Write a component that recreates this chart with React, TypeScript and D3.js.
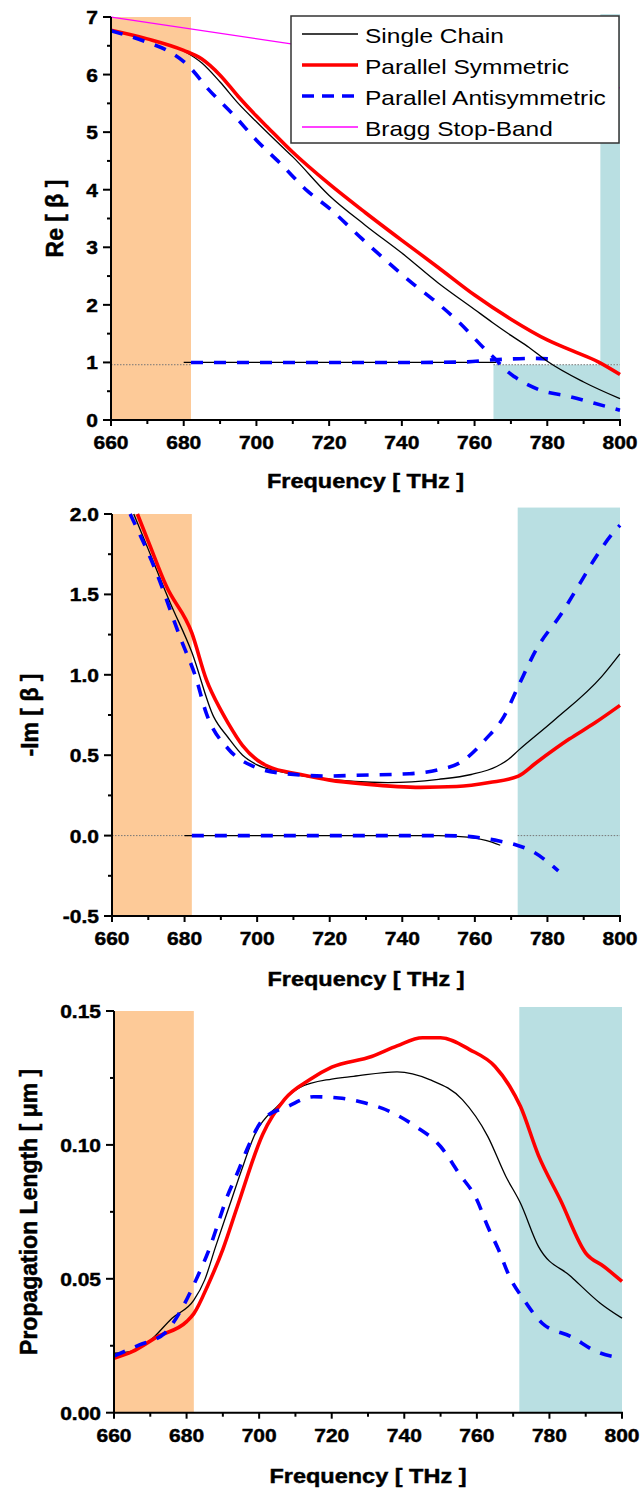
import React from "react";
import * as d3 from "d3";

const FONT = "'Liberation Sans', Arial, Helvetica, sans-serif";

// frequency axis (THz)
const freqTicks = [660, 680, 700, 720, 740, 760, 780, 800];
const freqMinor = [670, 690, 710, 730, 750, 770, 790];

// Re[β] panel
const reTicks = [0, 1, 2, 3, 4, 5, 6, 7];
const reSingle = [[660, 6.77], [670, 6.62], [680, 6.41], [685, 6.2], [690, 5.87], [695, 5.5], [700, 5.18], [707, 4.75], [710, 4.57], [720, 3.9], [730, 3.38], [740, 2.9], [750, 2.38], [760, 1.92], [765, 1.69], [770, 1.47], [775, 1.26], [780, 1.02], [790, 0.66], [800, 0.37]];
const reSym = [[660, 6.77], [670, 6.62], [680, 6.42], [685, 6.27], [690, 5.99], [695, 5.62], [700, 5.28], [703, 5.09], [710, 4.65], [720, 4.1], [730, 3.6], [740, 3.12], [750, 2.65], [760, 2.17], [770, 1.75], [780, 1.39], [787, 1.2], [794, 1.01], [800, 0.79]];
const reAnti = [[660, 6.76], [670, 6.56], [676, 6.4], [681, 6.17], [687, 5.73], [694, 5.28], [700, 4.86], [707, 4.43], [714, 3.98], [720, 3.68], [729, 3.15], [743, 2.37], [750, 2.02], [756, 1.68], [763, 1.22], [766, 1.04], [768, 0.9], [771, 0.75], [778, 0.52], [786, 0.41], [793, 0.29], [800, 0.17]];
const reSingleLow = [[680, 1.0], [720, 1.0], [766, 1.0]];
const reAntiLow = [[682, 1.0], [720, 1.0], [745, 1.0], [758, 1.01], [764, 1.04], [770, 1.06], [776, 1.07], [783, 1.05]];
const bragg = [[660, 7.0], [710, 6.53], [800, 5.77]];

// -Im[β] panel
const imTicks = [-0.5, 0, 0.5, 1, 1.5, 2];
const imSingle = [[666, 2.0], [670, 1.78], [676, 1.45], [682, 1.14], [688, 0.74], [692, 0.61], [696, 0.5], [700, 0.44], [706, 0.4], [718, 0.355], [736, 0.33], [750, 0.35], [759, 0.38], [766, 0.43], [769, 0.47], [772, 0.53], [782, 0.72], [795, 0.99], [800, 1.13]];
const imSym = [[667, 2.0], [670, 1.83], [675, 1.55], [682, 1.26], [686, 0.97], [690, 0.78], [692, 0.7], [696, 0.56], [700, 0.47], [703, 0.43], [712, 0.38], [720, 0.345], [730, 0.32], [745, 0.3], [755, 0.305], [764, 0.33], [772, 0.37], [777, 0.455], [786, 0.6], [793, 0.7], [800, 0.81]];
const imAnti = [[665, 2.0], [672, 1.65], [679, 1.22], [683, 0.99], [686, 0.76], [692, 0.54], [699, 0.43], [706, 0.39], [720, 0.37], [727, 0.375], [742, 0.385], [750, 0.41], [756, 0.455], [763, 0.6], [768, 0.74], [772, 0.93], [777, 1.16], [784, 1.385], [789, 1.57], [793, 1.72], [798, 1.88], [800, 1.93]];
const imSingleLow = [[680, 0.0], [720, 0.0], [750, 0.0], [758, -0.01], [763, -0.03], [767, -0.06]];
const imAntiLow = [[682, 0.0], [720, 0.0], [750, 0.0], [758, -0.005], [762, -0.015], [767, -0.035], [771, -0.055], [776, -0.1], [783, -0.22]];

// propagation length panel
const lenTicks = [0, 0.05, 0.1, 0.15];
const lenSingle = [[660, 0.0222], [665, 0.023], [670, 0.027], [676, 0.0353], [682, 0.042], [685, 0.0496], [688, 0.062], [692, 0.078], [695, 0.09], [699, 0.1044], [705, 0.1144], [711, 0.1213], [720, 0.1246], [726, 0.1256], [738, 0.1273], [747, 0.1244], [756, 0.1169], [763, 0.1032], [768, 0.0882], [772, 0.0783], [777, 0.062], [786, 0.0508], [794, 0.0409], [800, 0.0353]];
const lenSym = [[660, 0.0203], [665, 0.0228], [672, 0.0284], [680, 0.034], [682, 0.037], [686, 0.048], [690, 0.061], [694, 0.077], [701, 0.104], [707, 0.117], [714, 0.1244], [720, 0.129], [731, 0.133], [738, 0.137], [745, 0.14], [750, 0.14], [758, 0.1356], [765, 0.1293], [769, 0.122], [772, 0.1144], [777, 0.096], [783, 0.0795], [790, 0.0596], [795, 0.0546], [800, 0.049]];
const lenAnti = [[660, 0.0212], [667, 0.0253], [674, 0.0297], [679, 0.0396], [683, 0.0508], [686.5, 0.062], [689, 0.072], [691, 0.08], [694, 0.0895], [697, 0.0994], [701, 0.1094], [708, 0.1144], [715, 0.118], [722, 0.1175], [729, 0.1157], [736, 0.1125], [743, 0.107], [750, 0.0994], [755, 0.0895], [760, 0.0795], [763, 0.0695], [766, 0.0608], [769, 0.0508], [773, 0.0421], [778, 0.0334], [786, 0.0284], [793, 0.0228], [800, 0.0203]];

// shaded bands: [f0, f1, v0, v1]
const reOrange = [[660, 682, 0, 7]];
const reTeal = [[765.2, 800, 0, 0.96], [794.6, 800, 0.96, 7.05]];
const imOrange = [[660, 682, -0.5, 2.0]];
const imTeal = [[771.8, 800, -0.5, 2.04]];
const lenOrange = [[660, 682, 0, 0.15]];
const lenTeal = [[771.7, 800, 0, 0.1515]];

// dotted reference segments: [f0, f1, v]
const reDotted = [[660, 682, 0.96], [765.2, 800, 0.96]];
const imDotted = [[660, 681, 0], [771.8, 800, 0]];

const legendNames = ["Single Chain", "Parallel Symmetric", "Parallel Antisymmetric", "Bragg Stop-Band"];

const ORANGE = "#fdca98";
const TEAL = "#b9dfe2";

const STYLES: Record<string, any> = {
  single: { stroke: "#000000", width: 1.3, dash: null },
  sym: { stroke: "#ff0000", width: 3.6, dash: null },
  anti: { stroke: "#0000ff", width: 3.6, dash: "12 11" },
  bragg: { stroke: "#ff00ff", width: 1.3, dash: null },
};

// plain hyphen for negatives, as in the original figure
const hyphen = (f: (v: number) => string) => (v: number) => f(v).replace("\u2212", "-");

function Txt({ x, y, size, weight = "bold", anchor = "middle", sy = 1, rotate = 0, children }: any) {
  const t = rotate ? `translate(${x},${y}) rotate(${rotate})` : `translate(${x},${y}) scale(1,${sy})`;
  const heavy = weight === "bold";
  return (
    <text
      transform={t}
      fontSize={size}
      fontWeight={weight}
      textAnchor={anchor}
      fontFamily={FONT}
      fill="#000"
      stroke={heavy ? "#000" : "none"}
      strokeWidth={heavy ? 0.5 : 0}
    >
      {children}
    </text>
  );
}

function Panel({ xr, yr, domain, ticks, minorStep, fmt, orange, teal, dotted, series, ytitle, ytitleX, xtitleY }: any) {
  const x = d3.scaleLinear().domain([660, 800]).range(xr);
  const y = d3.scaleLinear().domain(domain).range(yr);
  const line = d3
    .line<number[]>()
    .x((d) => x(d[0]))
    .y((d) => y(d[1]))
    .curve(d3.curveMonotoneX);
  const minor = d3.range(domain[0], domain[1] + minorStep / 2, minorStep).filter((v: number) => !ticks.some((t: number) => Math.abs(t - v) < 1e-9));
  const x0 = xr[0];
  const yb = yr[0];

  return (
    <g>
      {orange.map((b: number[], i: number) => (
        <rect key={"o" + i} x={x(b[0])} y={y(b[3])} width={x(b[1]) - x(b[0])} height={y(b[2]) - y(b[3])} fill={ORANGE} />
      ))}
      {teal.map((b: number[], i: number) => (
        <rect key={"t" + i} x={x(b[0])} y={y(b[3])} width={x(b[1]) - x(b[0])} height={y(b[2]) - y(b[3])} fill={TEAL} />
      ))}
      {dotted.map((s: number[], i: number) => (
        <line key={"d" + i} x1={x(s[0])} x2={x(s[1])} y1={y(s[2])} y2={y(s[2])} stroke="#777" strokeWidth={1} strokeDasharray="1.5 1.5" />
      ))}
      {series.map((s: any, i: number) => {
        const st = STYLES[s.style];
        return (
          <path
            key={"s" + i}
            d={line(s.data) || ""}
            fill="none"
            stroke={st.stroke}
            strokeWidth={st.width}
            strokeDasharray={st.dash || undefined}
            strokeLinejoin="round"
          />
        );
      })}
      {/* axes */}
      <line x1={x0} x2={x0} y1={yb + 1} y2={yr[1]} stroke="#000" strokeWidth={2} />
      <line x1={x0 - 1} x2={xr[1] + 1} y1={yb} y2={yb} stroke="#000" strokeWidth={2} />
      {ticks.map((t: number) => (
        <g key={"yt" + t}>
          <line x1={x0 - 8} x2={x0} y1={y(t)} y2={y(t)} stroke="#000" strokeWidth={2} />
          <Txt x={x0 - 13} y={y(t) + 7} size={21} anchor="end" sy={0.9}>
            {fmt(t)}
          </Txt>
        </g>
      ))}
      {minor.map((t: number, i: number) => (
        <line key={"ym" + i} x1={x0 - 4} x2={x0} y1={y(t)} y2={y(t)} stroke="#000" strokeWidth={2} />
      ))}
      {freqTicks.map((f) => (
        <g key={"xt" + f}>
          <line x1={x(f)} x2={x(f)} y1={yb} y2={yb + 6} stroke="#000" strokeWidth={2} />
          <Txt x={x(f)} y={yb + 29} size={21} sy={0.9}>
            {f}
          </Txt>
        </g>
      ))}
      {freqMinor.map((f) => (
        <line key={"xm" + f} x1={x(f)} x2={x(f)} y1={yb} y2={yb + 4} stroke="#000" strokeWidth={2} />
      ))}
      <Txt x={(xr[0] + xr[1]) / 2} y={xtitleY} size={23.5} sy={0.85}>
        Frequency [ THz ]
      </Txt>
      <Txt x={ytitleX} y={(yr[0] + yr[1]) / 2} size={23} rotate={-90}>
        {ytitle}
      </Txt>
    </g>
  );
}

function Legend() {
  const keys = ["single", "sym", "anti", "bragg"];
  const rows = d3.scaleLinear().domain([0, 3]).range([34, 127]);
  return (
    <g>
      <rect x={291} y={16} width={328} height={127} fill="#fff" stroke="#333" strokeWidth={1.5} />
      {legendNames.map((n, i) => {
        const st = STYLES[keys[i]];
        return (
          <g key={n}>
            <line
              x1={302}
              x2={358}
              y1={rows(i)}
              y2={rows(i)}
              stroke={st.stroke}
              strokeWidth={st.width}
              strokeDasharray={st.dash ? "12 8" : undefined}
            />
            <Txt x={365} y={rows(i) + 8.5} size={24.5} weight="normal" anchor="start" sy={0.83}>
              {n}
            </Txt>
          </g>
        );
      })}
    </g>
  );
}

export default function App() {
  return (
    <svg width={643} height={1492} style={{ position: "absolute", left: 0, top: 0, background: "#fff" }}>
      <rect x={0} y={0} width={643} height={1492} fill="#fff" />
      <Panel
        xr={[111, 620]}
        yr={[420, 17]}
        domain={[0, 7]}
        ticks={reTicks}
        minorStep={0.5}
        fmt={(v: number) => String(v)}
        orange={reOrange}
        teal={reTeal}
        dotted={reDotted}
        series={[
          { data: bragg, style: "bragg" },
          { data: reSingleLow, style: "single" },
          { data: reAntiLow, style: "anti" },
          { data: reSingle, style: "single" },
          { data: reSym, style: "sym" },
          { data: reAnti, style: "anti" },
        ]}
        ytitle="Re [ β ]"
        ytitleX={63}
        xtitleY={488}
      />
      <Legend />
      <Panel
        xr={[112, 620]}
        yr={[916, 514]}
        domain={[-0.5, 2]}
        ticks={imTicks}
        minorStep={0.25}
        fmt={hyphen(d3.format(".1f"))}
        orange={imOrange}
        teal={imTeal}
        dotted={imDotted}
        series={[
          { data: imSingleLow, style: "single" },
          { data: imAntiLow, style: "anti" },
          { data: imSingle, style: "single" },
          { data: imSym, style: "sym" },
          { data: imAnti, style: "anti" },
        ]}
        ytitle="-Im [ β ]"
        ytitleX={38}
        xtitleY={986}
      />
      <Panel
        xr={[114, 622]}
        yr={[1412.7, 1011]}
        domain={[0, 0.15]}
        ticks={lenTicks}
        minorStep={0.025}
        fmt={d3.format(".2f")}
        orange={lenOrange}
        teal={lenTeal}
        dotted={[]}
        series={[
          { data: lenSingle, style: "single" },
          { data: lenSym, style: "sym" },
          { data: lenAnti, style: "anti" },
        ]}
        ytitle="Propagation Length [ μm ]"
        ytitleX={36.5}
        xtitleY={1483}
      />
    </svg>
  );
}
